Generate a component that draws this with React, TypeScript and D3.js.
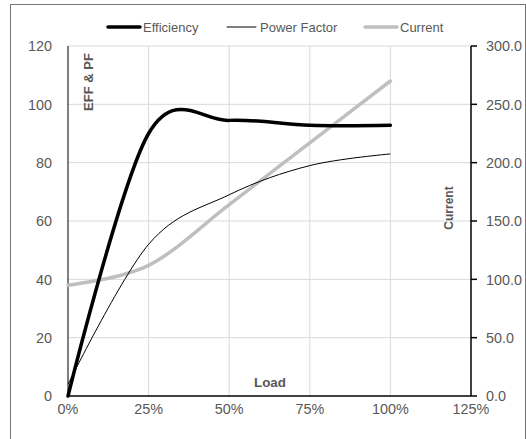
import React from "react";
import * as d3 from "d3";

const loads = [0, 0.25, 0.5, 0.75, 1.0];
const efficiency = [0, 90, 94.5, 92.8, 92.8];
const powerFactor = [4, 52, 69, 79, 83];
const current = [95, 112, 164, 217, 270];

const xTicks = [0, 0.25, 0.5, 0.75, 1.0, 1.25];
const leftTicks = [0, 20, 40, 60, 80, 100, 120];
const rightTicks = [0, 50, 100, 150, 200, 250, 300];

const W = 526;
const H = 439;
const FONT = "'Liberation Sans', Arial, sans-serif";
const GRAY = "#595959";

export default function App() {
  const x = d3.scaleLinear().domain([0, 1.25]).range([68, 471]);
  const yL = d3.scaleLinear().domain([0, 120]).range([396, 46]);
  const yR = d3.scaleLinear().domain([0, 300]).range([396, 46]);

  const mk = (vals: number[], y: d3.ScaleLinear<number, number>) =>
    d3
      .line<number>()
      .x((_, i) => x(loads[i]))
      .y((v) => y(v))
      .curve(d3.curveCardinal.tension(0))(vals) || "";

  const legend = [
    { label: "Efficiency", x1: 108, x2: 140, tx: 143, color: "#000", w: 3.5 },
    { label: "Power Factor", x1: 227, x2: 256, tx: 260, color: "#000", w: 1 },
    { label: "Current", x1: 365, x2: 397, tx: 400, color: "#bfbfbf", w: 3.5 },
  ];

  return (
    <svg
      width={W}
      height={H}
      style={{ position: "absolute", left: 0, top: 0, background: "#fff" }}
      fontFamily={FONT}
    >
      <rect x={0} y={0} width={W} height={H} fill="#fff" />
      <rect x={10.5} y={4.5} width={515} height={450} fill="none" stroke="#767676" strokeWidth={1} />

      {/* gridlines */}
      {xTicks.slice(1, 5).map((t) => (
        <line key={"gx" + t} x1={x(t)} x2={x(t)} y1={yL(120)} y2={yL(0)} stroke="#d9d9d9" strokeWidth={1} />
      ))}
      {leftTicks.slice(1).map((t) => (
        <line key={"gy" + t} x1={x(0)} x2={x(1.25)} y1={yL(t)} y2={yL(t)} stroke="#d9d9d9" strokeWidth={1} />
      ))}

      {/* axes */}
      <line x1={x(0)} x2={x(0)} y1={yL(120)} y2={yL(0)} stroke="#000" strokeWidth={1} />
      <line x1={x(1.25)} x2={x(1.25)} y1={yR(300)} y2={yR(0)} stroke="#000" strokeWidth={1.5} />
      {rightTicks.map((t) => (
        <line key={"rt" + t} x1={x(1.25)} x2={x(1.25) + 6} y1={yR(t)} y2={yR(t)} stroke="#000" strokeWidth={1.5} />
      ))}

      {/* series */}
      <path d={mk(current, yR)} fill="none" stroke="#bfbfbf" strokeWidth={3.5} strokeLinecap="round" />
      <path d={mk(powerFactor, yL)} fill="none" stroke="#000" strokeWidth={1} />
      <path d={mk(efficiency, yL)} fill="none" stroke="#000" strokeWidth={3.5} strokeLinecap="round" />

      <line x1={x(0)} x2={x(1.25)} y1={yL(0)} y2={yL(0)} stroke="#000" strokeWidth={1.5} />

      {/* tick labels */}
      {leftTicks.map((t) => (
        <text key={"lt" + t} x={52} y={yL(t)} dy="0.36em" textAnchor="end" fontSize={14.4} fill={GRAY}>
          {t}
        </text>
      ))}
      {rightTicks.map((t) => (
        <text key={"rl" + t} x={486} y={yR(t)} dy="0.36em" textAnchor="start" fontSize={14.4} fill={GRAY}>
          {t.toFixed(1)}
        </text>
      ))}
      {xTicks.map((t) => (
        <text key={"xl" + t} x={x(t)} y={414} textAnchor="middle" fontSize={14.4} fill={GRAY}>
          {d3.format(".0%")(t)}
        </text>
      ))}

      {/* axis titles */}
      <text
        transform={`translate(88.5,82) rotate(-90)`}
        textAnchor="middle"
        dy="0.36em"
        fontSize={13}
        fontWeight="bold"
        fill={GRAY}
      >
        EFF &amp; PF
      </text>
      <text
        transform={`translate(449,208) rotate(-90)`}
        textAnchor="middle"
        dy="0.36em"
        fontSize={12}
        fontWeight="bold"
        fill={GRAY}
      >
        Current
      </text>
      <text x={270} y={387} textAnchor="middle" fontSize={13.4} fontWeight="bold" fill={GRAY}>
        Load
      </text>

      {/* legend */}
      {legend.map((l) => (
        <g key={l.label}>
          <line x1={l.x1} x2={l.x2} y1={27} y2={27} stroke={l.color} strokeWidth={l.w} strokeLinecap="round" />
          <text x={l.tx} y={27} dy="0.36em" fontSize={13} fill={GRAY}>
            {l.label}
          </text>
        </g>
      ))}
    </svg>
  );
}
